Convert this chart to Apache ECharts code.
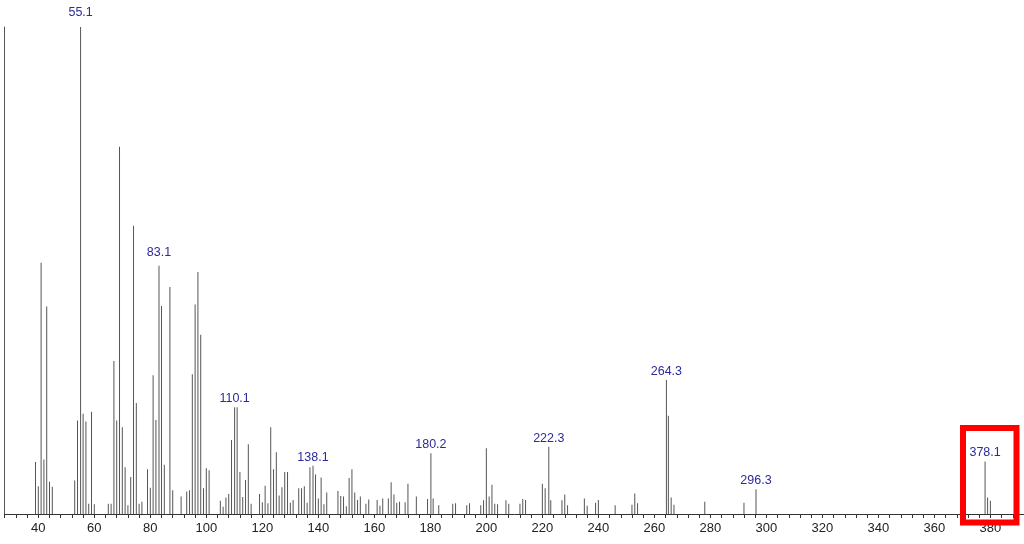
<!DOCTYPE html>
<html>
<head>
<meta charset="utf-8">
<script src="https://cdn.jsdelivr.net/npm/echarts@6/dist/echarts.min.js"></script>
<style>
  html, body { margin: 0; padding: 0; background: #fff; }
  #chart { width: 1024px; height: 544px; }
</style>
</head>
<body>
<div id="chart"></div>
<script>
// m/z of each peak (labelled peaks keep their decimal value)
const mz = [
  39, 40, 41, 42, 43, 44, 45, 53, 54, 55.1, 56, 57, 58, 59, 60, 65, 66, 67, 68, 69,
  70, 71, 72, 73, 74, 75, 76, 77, 79, 80, 81, 82, 83.1, 84, 85, 87, 88, 91, 93, 94,
  95, 96, 97, 98, 99, 100, 101, 105, 106, 107, 108, 109, 110.1, 111, 112, 113, 114, 115, 116, 119,
  120, 121, 122, 123, 124, 125, 126, 127, 128, 129, 130, 131, 133, 134, 135, 136, 137, 138.1, 139, 140,
  141, 142, 143, 147, 148, 149, 150, 151, 152, 153, 154, 155, 157, 158, 161, 162, 163, 165, 166, 167,
  168, 169, 171, 172, 175, 179, 180.2, 181, 183, 188, 189, 193, 194, 198, 199, 200, 201, 202, 203, 204,
  207, 208, 212, 213, 214, 220, 221, 222.3, 223, 227, 228, 229, 235, 236, 239, 240, 246, 252, 253, 254,
  264.3, 265, 266, 267, 278, 292, 296.3, 378.1, 379, 380
];
// relative abundance (%)
const abundance = [
  10.7, 5.7, 51.6, 11.2, 42.6, 6.6, 5.6, 6.9, 19.2, 100, 20.6, 19.0, 2.1, 21.0, 2.0, 2.1, 2.1, 31.4, 19.2, 75.4,
  17.8, 9.6, 1.8, 7.6, 59.2, 22.8, 2.1, 2.5, 9.2, 5.4, 28.5, 19.3, 51.0, 42.7, 10.1, 46.6, 4.9, 3.6, 4.6, 4.9,
  28.7, 43.0, 49.7, 36.8, 5.3, 9.4, 9.0, 2.7, 1.5, 3.4, 4.1, 15.2, 21.9, 21.9, 8.6, 3.5, 7.0, 14.3, 2.1, 4.1,
  2.4, 5.8, 2.2, 17.8, 9.2, 12.7, 3.8, 5.5, 8.6, 8.6, 2.3, 2.9, 5.3, 5.3, 5.7, 2.3, 9.6, 9.9, 8.1, 3.2,
  7.5, 2.0, 4.4, 4.7, 3.7, 3.6, 1.6, 7.4, 9.2, 4.4, 2.9, 3.6, 2.1, 3.0, 2.9, 1.7, 3.2, 3.2, 6.5, 4.0,
  2.3, 2.5, 2.4, 6.2, 3.6, 3.1, 12.5, 3.2, 1.8, 2.1, 2.2, 1.8, 2.2, 1.8, 2.8, 13.5, 3.6, 6.0, 2.1, 2.0,
  2.8, 2.1, 2.1, 3.1, 2.9, 6.2, 5.3, 13.8, 2.8, 2.8, 4.0, 1.8, 3.2, 1.7, 2.3, 2.9, 1.8, 1.9, 4.2, 2.2,
  27.5, 20.2, 3.4, 1.9, 2.5, 2.3, 5.1, 10.8, 3.4, 2.7
];
// peaks that carry an m/z label
const labeledMz = [55.1, 83.1, 110.1, 138.1, 180.2, 222.3, 264.3, 296.3, 378.1];
const labelGap = { 55.1: 8, 83.1: 7 };

const font = "'Liberation Sans', Arial, sans-serif";

const data = mz.map((m, i) => {
  const item = { value: [m, abundance[i]] };
  if (labeledMz.includes(m)) {
    item.label = {
      show: true,
      position: 'top',
      distance: labelGap[m] || 2,
      formatter: m.toFixed(1),
      color: '#2b2b9b',
      fontSize: 12.5,
      fontFamily: font
    };
  }
  return item;
});

const chart = echarts.init(document.getElementById('chart'));
chart.setOption({
  animation: false,
  grid: { left: 4.7, right: 0, top: 27, bottom: 30, containLabel: false, outerBoundsMode: 'none' },
  xAxis: {
    type: 'value',
    min: 28,
    max: 392,
    interval: 4,
    axisLine: { show: true, lineStyle: { color: '#333', width: 1 } },
    axisTick: { show: true, length: 4, lineStyle: { color: '#333' } },
    axisLabel: {
      margin: 8,
      fontSize: 13,
      fontFamily: font,
      color: '#222',
      formatter: v => (v % 20 === 0 && v >= 40 && v <= 380 ? String(v) : '')
    },
    splitLine: { show: false }
  },
  yAxis: {
    type: 'value',
    min: 0,
    max: 100,
    axisLine: { show: true, lineStyle: { color: '#555', width: 1 } },
    axisTick: { show: false },
    axisLabel: { show: false },
    splitLine: { show: false }
  },
  series: [{
    type: 'bar',
    barWidth: 1,
    itemStyle: { color: '#555' },
    data: data
  }],
  // red highlight box around the molecular ion region
  graphic: [{
    type: 'rect',
    shape: { x: 963, y: 428, width: 53.5, height: 94.5 },
    style: { fill: 'none', stroke: '#ff0000', lineWidth: 6 },
    z: 100
  }]
});
</script>
</body>
</html>
